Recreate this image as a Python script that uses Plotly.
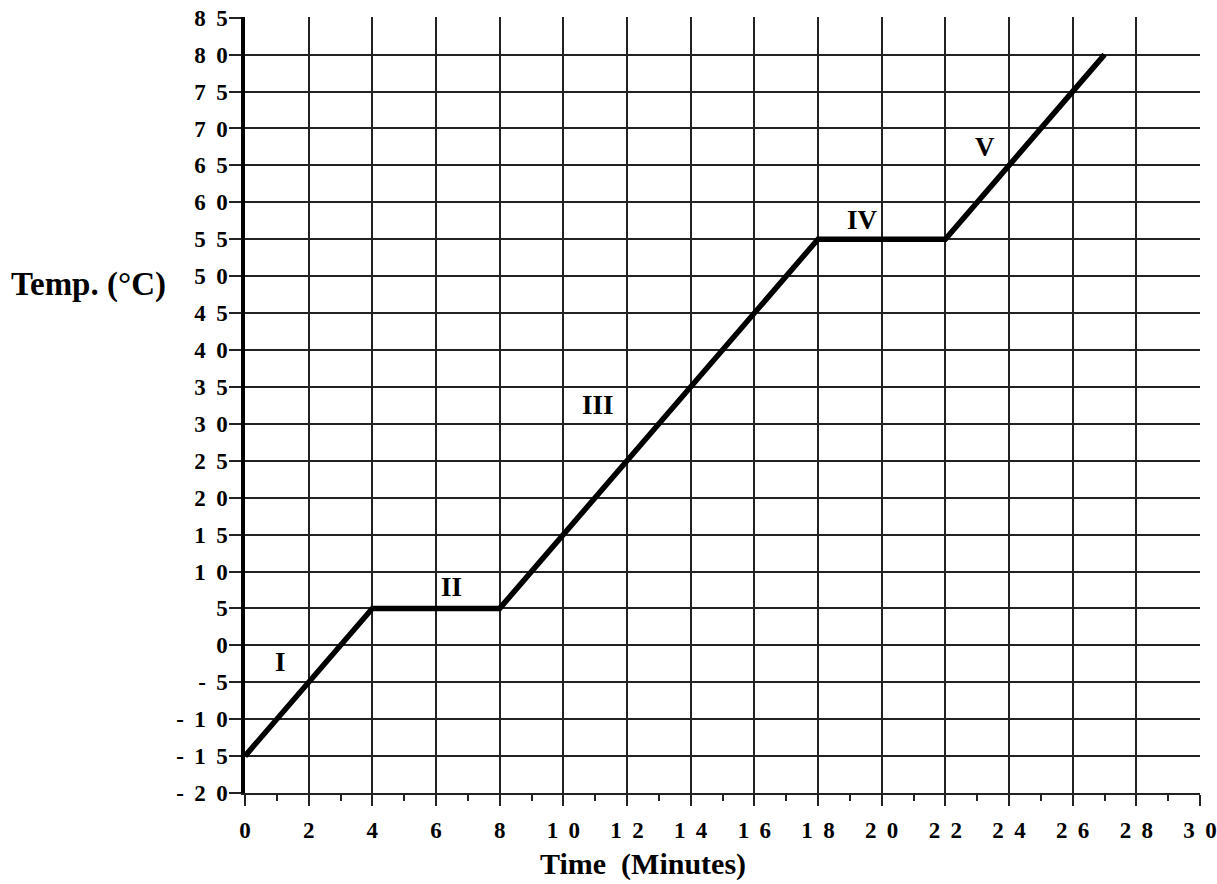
import plotly.graph_objects as go

time_min = [0, 4, 8, 11, 17, 18, 22, 27]
temp_c = [-15, 5, 5, 20, 50, 55, 55, 80]

x_tick_vals = list(range(0, 31, 2))
x_tick_text = ["0", "2", "4", "6", "8", "1 0", "1 2", "1 4", "1 6", "1 8", "2 0", "2 2", "2 4", "2 6", "2 8", "3 0"]
y_tick_vals = list(range(-20, 86, 5))
y_tick_text = ["- 2 0", "- 1 5", "- 1 0", "- 5", "0", "5", "1 0", "1 5", "2 0", "2 5", "3 0", "3 5",
               "4 0", "4 5", "5 0", "5 5", "6 0", "6 5", "7 0", "7 5", "8 0", "8 5"]

region_labels = ["I", "II", "III", "IV", "V"]
region_x = [1.1, 6.5, 11.1, 19.4, 23.25]
region_y = [-2.3, 7.9, 32.6, 57.6, 67.5]

FONT = "Liberation Serif"
GAP = "\u00a0\u2009"


def spaced(t):
    return "<b>" + t.replace(" ", GAP) + "</b>"


fig = go.Figure()
fig.add_trace(go.Scatter(x=time_min, y=temp_c, mode="lines",
                         line=dict(color="black", width=5.5), showlegend=False, hoverinfo="skip"))

for lab, lx, ly in zip(region_labels, region_x, region_y):
    fig.add_annotation(x=lx, y=ly, text=f"<b>{lab}</b>", showarrow=False,
                       font=dict(family=FONT, size=27, color="black"))

fig.add_annotation(xref="paper", yref="paper", x=-0.247, y=0.655, xanchor="left", yanchor="middle",
                   text="<b>Temp. (°C)</b>", showarrow=False, font=dict(family=FONT, size=33, color="black"))
fig.add_annotation(xref="paper", yref="paper", x=0.417, y=-0.092, xanchor="center", yanchor="middle",
                   text="<b>Time\u00a0 (Minutes)</b>", showarrow=False, font=dict(family=FONT, size=30, color="black"))

fig.update_layout(
    width=1217, height=884,
    margin=dict(l=245, r=17, t=17, b=91, autoexpand=False),
    paper_bgcolor="white", plot_bgcolor="white",
    xaxis=dict(range=[0, 30], tickvals=x_tick_vals, ticktext=[spaced(t) for t in x_tick_text],
               showgrid=True, gridcolor="#222", gridwidth=1.6, zeroline=False,
               ticks="outside", ticklen=11, tickwidth=2, tickcolor="#222",
               minor=dict(tickvals=list(range(1, 30, 2)), ticks="outside", ticklen=6, tickwidth=2,
                          tickcolor="#222", showgrid=False),
               showline=True, linecolor="#222", linewidth=2, automargin=False,
               tickfont=dict(family=FONT, size=23, color="black"),
               ticklabelstandoff=4, ticklabeloverflow="allow", fixedrange=True),
    yaxis=dict(range=[-20, 85.1], tickvals=y_tick_vals, ticktext=[spaced(t) for t in y_tick_text],
               showgrid=True, gridcolor="#222", gridwidth=1.6, zeroline=False,
               ticks="outside", ticklen=12, tickwidth=2, tickcolor="#222",
               showline=True, linecolor="black", linewidth=3.5, automargin=False,
               tickfont=dict(family=FONT, size=23, color="black"),
               ticklabelstandoff=-3, ticklabeloverflow="allow", fixedrange=True),
)

fig.write_html("out.html", config={"displayModeBar": False},
               post_script="document.body.style.margin='0px';")
